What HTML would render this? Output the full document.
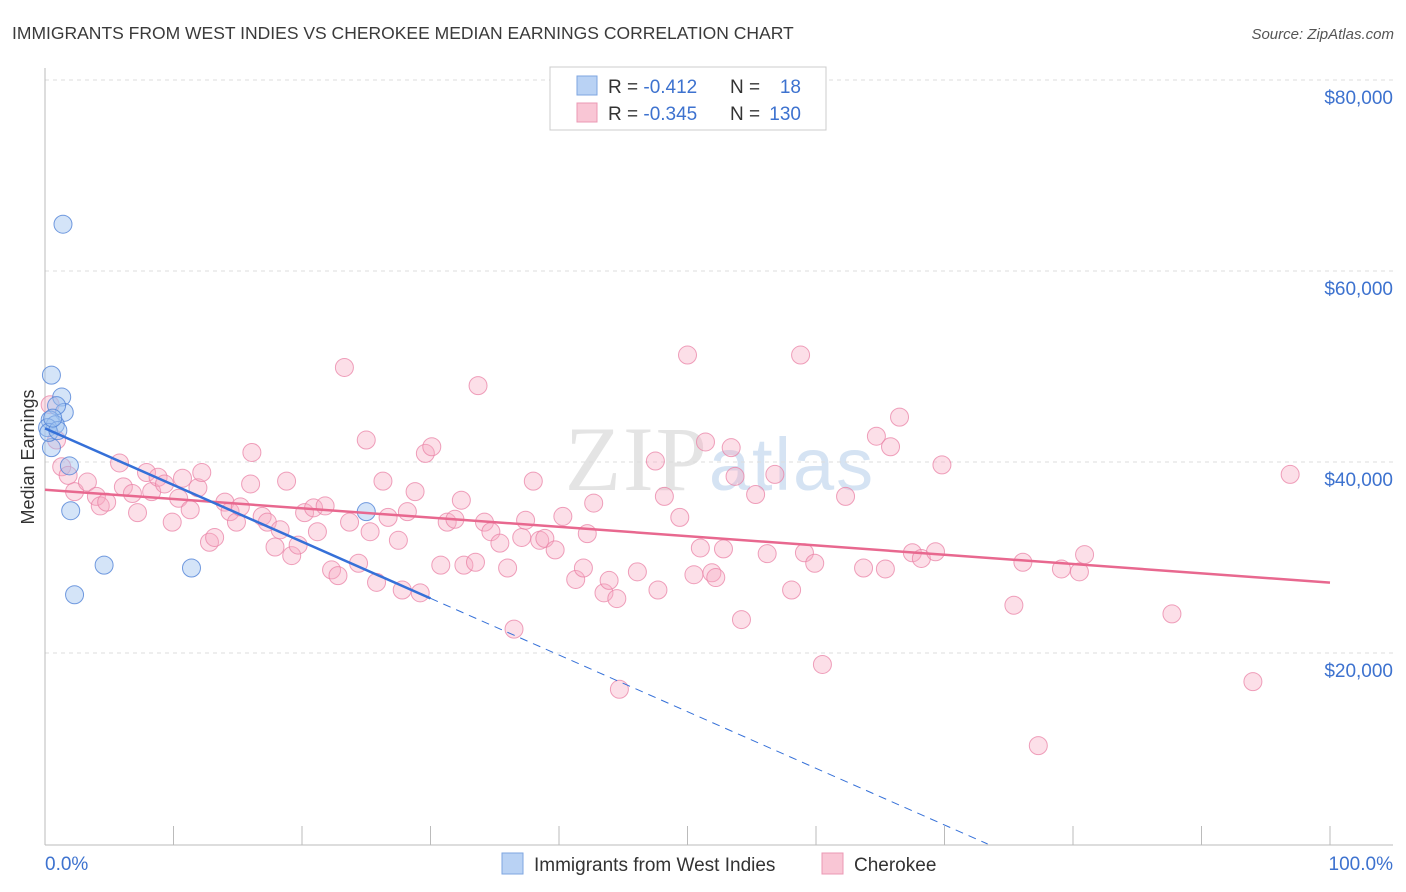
<!DOCTYPE html>
<html><head><meta charset="utf-8"><style>
body{margin:0;background:#fff;font-family:"Liberation Sans",sans-serif;}
</style></head><body>
<svg id="chart" width="1406" height="892" xmlns="http://www.w3.org/2000/svg" style="display:block">
<text x="12" y="39" font-size="17.5" fill="#3a3a3a">IMMIGRANTS FROM WEST INDIES VS CHEROKEE MEDIAN EARNINGS CORRELATION CHART</text>
<text x="1394" y="39" font-size="15" fill="#555" text-anchor="end" font-style="italic">Source: ZipAtlas.com</text>
<text x="720" y="490" font-size="92" fill="#e4e4e4" text-anchor="middle" font-family="Liberation Serif,serif" letter-spacing="2">ZIP<tspan fill="#d5e3f3" font-family="Liberation Sans,sans-serif" font-size="74">atlas</tspan></text>
<text transform="translate(34,457) rotate(-90)" font-size="18" fill="#333" text-anchor="middle">Median Earnings</text>
<g id="grid"></g><g id="axes"></g><g id="pink"></g><g id="blue"></g><g id="lines"></g>
<g>
<rect x="550" y="67" width="276" height="63" fill="#fff" stroke="#ccc"/>
<rect x="577" y="76" width="20" height="19" fill="#b9d2f4" stroke="#7ea6e0"/>
<rect x="577" y="103" width="20" height="19" fill="#f9c6d5" stroke="#eb98b4"/>
<text x="608" y="93" font-size="19" fill="#333">R = <tspan fill="#3d72cf">-0.412</tspan><tspan x="730">N =</tspan><tspan x="801" text-anchor="end" fill="#3d72cf">18</tspan></text>
<text x="608" y="120" font-size="19" fill="#333">R = <tspan fill="#3d72cf">-0.345</tspan><tspan x="730">N =</tspan><tspan x="801" text-anchor="end" fill="#3d72cf">130</tspan></text>
</g>
<g>
<rect x="502" y="853" width="21" height="21" fill="#b9d2f4" stroke="#7ea6e0"/>
<text x="534" y="871" font-size="19" fill="#333">Immigrants from West Indies</text>
<rect x="822" y="853" width="21" height="21" fill="#f9c6d5" stroke="#eb98b4"/>
<text x="854" y="871" font-size="19" fill="#333">Cherokee</text>
</g>
</svg>
<script>
const yTicks=[20000,40000,60000,80000];
const yTickLabels=["$20,000","$40,000","$60,000","$80,000"];
const xTickLabels=["0.0%","100.0%"];
const blueX=[1.4,0.5,1.3,1.5,0.9,0.4,0.8,0.2,0.5,1.9,2.0,4.6,2.3,11.4,25.0,0.3,1.0,0.6];
const blueY=[64.9,49.1,46.8,45.2,45.9,44.4,43.9,43.6,41.5,39.6,34.9,29.2,26.1,28.9,34.8,43.1,43.3,44.6];
const pinkX=[0.4,0.9,1.3,1.8,2.3,3.3,4.0,4.3,4.8,5.8,6.1,6.8,7.2,7.9,8.3,8.8,9.3,9.9,10.4,10.7,11.3,11.9,12.2,12.8,13.2,14.0,14.4,14.9,15.2,16.1,16.0,16.9,17.3,17.9,18.3,18.8,19.2,19.7,20.2,20.9,21.2,21.8,22.3,22.8,23.3,23.7,24.4,25.0,25.3,25.8,26.3,26.7,27.5,27.8,28.2,28.8,29.2,29.6,30.1,30.8,31.3,31.9,32.4,32.6,33.5,33.7,34.2,34.7,35.4,36.0,36.5,37.1,37.4,38.0,38.5,38.9,39.7,40.3,41.3,41.9,42.2,42.7,43.5,43.9,44.5,44.7,46.1,47.5,47.7,48.2,49.4,50.0,50.5,51.0,51.4,51.9,52.2,52.8,53.4,53.7,54.2,55.3,56.2,56.8,58.1,58.8,59.1,59.9,60.5,62.3,63.7,64.7,65.4,65.8,66.5,67.5,68.2,69.3,69.8,75.4,76.1,77.3,79.1,80.5,80.9,87.7,94.0,96.9];
const pinkY=[46.0,42.3,39.5,38.6,36.9,37.9,36.4,35.4,35.8,39.9,37.4,36.7,34.7,38.9,36.9,38.4,37.7,33.7,36.2,38.3,35.0,37.3,38.9,31.6,32.1,35.8,34.8,33.7,35.3,41.0,37.7,34.3,33.7,31.1,32.9,38.0,30.2,31.3,34.7,35.2,32.7,35.4,28.7,28.1,49.9,33.7,29.4,42.3,32.7,27.4,38.0,34.2,31.8,26.6,34.8,36.9,26.3,40.9,41.6,29.2,33.7,34.0,36.0,29.2,29.5,48.0,33.7,32.7,31.5,28.9,22.5,32.1,33.9,38.0,31.8,32.0,30.8,34.3,27.7,28.9,32.5,35.7,26.3,27.6,25.7,16.2,28.5,40.1,26.6,36.4,34.2,51.2,28.2,31.0,42.1,28.4,27.9,30.9,41.5,38.5,23.5,36.6,30.4,38.7,26.6,51.2,30.5,29.4,18.8,36.4,28.9,42.7,28.8,41.6,44.7,30.5,29.9,30.6,39.7,25.0,29.5,10.3,28.8,28.5,30.3,24.1,17.0,38.7];
const NS="http://www.w3.org/2000/svg";
const X0=45,X1=1330,Y0=844,YPER=191/20000;
function sx(p){return X0+(X1-X0)*p/100;}
function sy(v){return Y0-v*YPER;}
function mk(tag,attrs,parent){const e=document.createElementNS(NS,tag);for(const k in attrs)e.setAttribute(k,attrs[k]);document.getElementById(parent).appendChild(e);return e;}
yTicks.forEach((t,i)=>{
 const g=mk('line',{x1:X0,x2:1393,y1:sy(t),y2:sy(t),stroke:'#ddd','stroke-dasharray':'4,4'},'grid');
 
 
 const l=mk('text',{x:1393,y:sy(t)+24,'text-anchor':'end','font-size':19,fill:'#3d72cf'},'grid');
 l.textContent=yTickLabels[i];
 
 
});
const ax=mk('line',{x1:X0,x2:X0,y1:68,y2:845,stroke:'#bbb'},'axes');


const bx=mk('line',{x1:X0,x2:1393,y1:845,y2:845,stroke:'#bbb'},'axes');


for(let i=0;i<=10;i++){const t=mk('line',{x1:sx(i*10),x2:sx(i*10),y1:826,y2:845,stroke:'#bbb'},'axes');
 
 }
[[0,'start',45],[100,'end',1393]].forEach((d,i)=>{const t=mk('text',{x:d[2],y:870,'text-anchor':d[1],'font-size':19,fill:'#3d72cf'},'axes');t.textContent=xTickLabels[i];
 
 });
pinkX.forEach((x,i)=>{const c=mk('circle',{cx:sx(x),cy:sy(pinkY[i]*1000),r:9,fill:'rgba(246,170,195,0.38)',stroke:'rgba(233,130,165,0.75)','stroke-width':1},'pink');
 
 });
blueX.forEach((x,i)=>{const c=mk('circle',{cx:sx(x),cy:sy(blueY[i]*1000),r:9,fill:'rgba(160,195,240,0.45)',stroke:'rgba(80,130,215,0.8)','stroke-width':1},'blue');
 
 });
function reg(xs,ys){const n=xs.length;let mx=0,my=0;xs.forEach((x,i)=>{mx+=x;my+=ys[i];});mx/=n;my/=n;let sxy=0,sxx=0;xs.forEach((x,i)=>{sxy+=(x-mx)*(ys[i]-my);sxx+=(x-mx)*(x-mx);});const b=sxy/sxx;return [my-b*mx,b];}
const pr=reg(pinkX,pinkY),br=reg(blueX,blueY);
const pl=mk('line',{x1:sx(0),y1:sy(pr[0]*1000),x2:sx(100),y2:sy((pr[0]+pr[1]*100)*1000),stroke:'#e8688f','stroke-width':2.5},'lines');


const bs=mk('line',{x1:sx(0),y1:sy(br[0]*1000),x2:sx(30),y2:sy((br[0]+br[1]*30)*1000),stroke:'#3570d8','stroke-width':2.5},'lines');


const xEnd=Math.min(100,-br[0]/br[1]);
const bd=mk('line',{x1:sx(30),y1:sy((br[0]+br[1]*30)*1000),x2:sx(xEnd),y2:sy((br[0]+br[1]*xEnd)*1000),stroke:'#3570d8','stroke-width':1,'stroke-dasharray':'8,6'},'lines');


</script>
</body></html>
